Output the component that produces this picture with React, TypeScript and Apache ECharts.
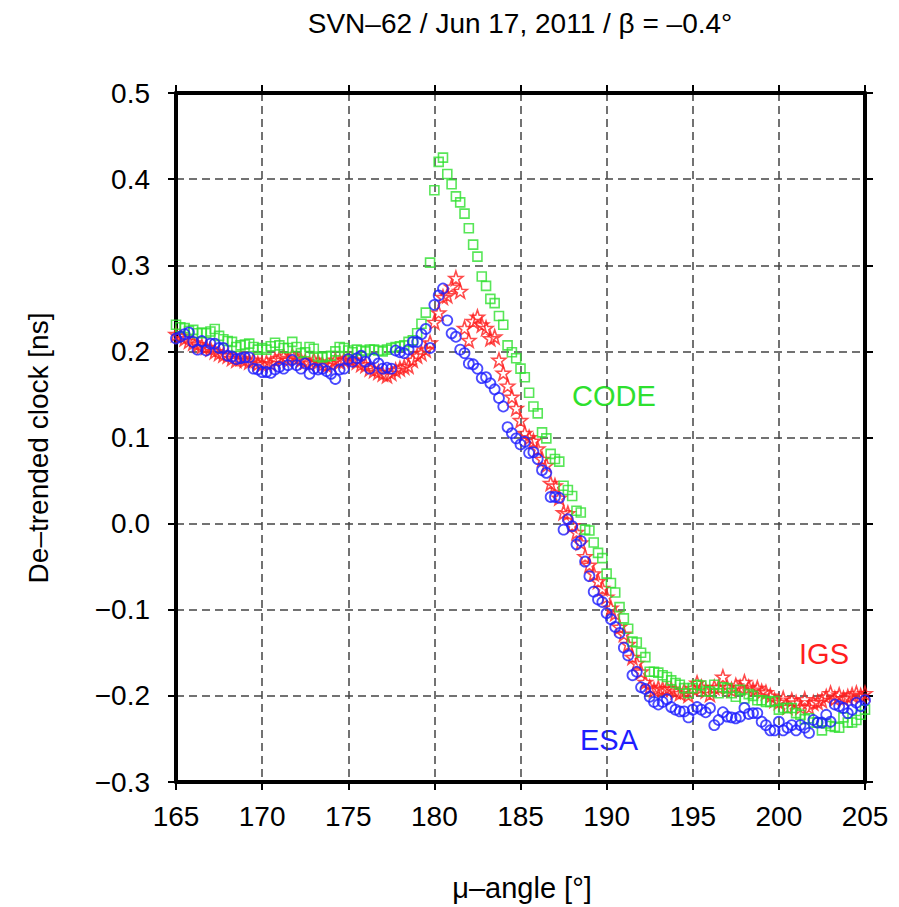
import React, { useEffect, useRef } from "react";
import * as echarts from "echarts";

// Sampling of the mu-angle (degrees) — regular epochs
const MU_START = 165;
const MU_STEP = 0.25;

const X_TICKS = [165, 170, 175, 180, 185, 190, 195, 200, 205];
const Y_TICKS = [-0.3, -0.2, -0.1, 0.0, 0.1, 0.2, 0.3, 0.4, 0.5];

// De-trended clock [ns] — CODE (green squares)
const CODE = [
  0.231, 0.228, 0.227, 0.224,
  0.225, 0.221, 0.222, 0.221,
  0.223, 0.226, 0.218, 0.214,
  0.212, 0.211, 0.205, 0.207,
  0.208, 0.209, 0.205, 0.202,
  0.204, 0.202, 0.206, 0.210,
  0.207, 0.204, 0.204, 0.211,
  0.205, 0.198, 0.199, 0.205,
  0.203, 0.194, 0.193, 0.194,
  0.195, 0.200, 0.205, 0.204,
  0.201, 0.199, 0.202, 0.201,
  0.200, 0.202, 0.202, 0.201,
  0.200, 0.202, 0.204, 0.205,
  0.206, 0.207, 0.211, 0.213,
  0.221, 0.232, 0.245, 0.303,
  0.387, 0.420, 0.425, 0.406,
  0.394, 0.380, 0.373, 0.360,
  0.343, 0.324, 0.310, 0.287,
  0.276, 0.261, 0.256, 0.241,
  0.231, 0.207, 0.199, 0.192,
  0.180, 0.170, 0.152, 0.136,
  0.128, 0.106, 0.099, 0.081,
  0.075, 0.072, 0.044, 0.039,
  0.032, 0.015, 0.013, -0.007,
  -0.008, -0.022, -0.034, -0.040,
  -0.058, -0.069, -0.080, -0.097,
  -0.110, -0.122, -0.137, -0.138,
  -0.150, -0.155, -0.172, -0.172,
  -0.173, -0.176, -0.178, -0.182,
  -0.185, -0.187, -0.191, -0.197,
  -0.191, -0.187, -0.188, -0.195,
  -0.195, -0.187, -0.197, -0.190,
  -0.191, -0.197, -0.201, -0.193,
  -0.203, -0.198, -0.200, -0.205,
  -0.205, -0.207, -0.207, -0.206,
  -0.216, -0.214, -0.214, -0.214,
  -0.220, -0.222, -0.227, -0.226,
  -0.231, -0.231, -0.240, -0.232,
  -0.235, -0.236, -0.237, -0.225,
  -0.231, -0.231, -0.228, -0.222,
  -0.216,
];

// IGS (red stars)
const IGS = [
  0.220, 0.218, 0.215, 0.212,
  0.210, 0.208, 0.206, 0.205,
  0.203, 0.200, 0.198, 0.196,
  0.195, 0.192, 0.190, 0.192,
  0.190, 0.188, 0.190, 0.186,
  0.185, 0.187, 0.186, 0.190,
  0.192, 0.194, 0.190, 0.195,
  0.192, 0.190, 0.188, 0.186,
  0.190, 0.188, 0.185, 0.184,
  0.186, 0.190, 0.188, 0.190,
  0.192, 0.190, 0.188, 0.185,
  0.184, 0.180, 0.178, 0.176,
  0.174, 0.172, 0.175, 0.178,
  0.180, 0.182, 0.183, 0.190,
  0.195, 0.198, 0.202, 0.210,
  0.234, 0.245, 0.263, 0.265,
  0.275, 0.285, 0.270, 0.227,
  0.213, 0.235, 0.240, 0.231,
  0.227, 0.215, 0.217, 0.190,
  0.175, 0.160, 0.147, 0.134,
  0.120, 0.105, 0.100, 0.096,
  0.087, 0.075, 0.068, 0.047,
  0.044, 0.030, 0.013, 0.012,
  -0.002, -0.010, -0.022, -0.038,
  -0.048, -0.058, -0.067, -0.075,
  -0.085, -0.098, -0.104, -0.120,
  -0.128, -0.140, -0.155, -0.162,
  -0.172, -0.184, -0.190, -0.193,
  -0.191, -0.192, -0.191, -0.192,
  -0.195, -0.197, -0.194, -0.199,
  -0.191, -0.185, -0.190, -0.194,
  -0.198, -0.190, -0.190, -0.178,
  -0.190, -0.193, -0.188, -0.190,
  -0.184, -0.190, -0.193, -0.191,
  -0.195, -0.196, -0.200, -0.205,
  -0.207, -0.203, -0.213, -0.205,
  -0.208, -0.213, -0.204, -0.213,
  -0.208, -0.207, -0.205, -0.201,
  -0.197, -0.203, -0.199, -0.203,
  -0.201, -0.199, -0.197, -0.200,
  -0.197,
];

// ESA (blue circles)
const ESA = [
  0.215, 0.217, 0.220, 0.222,
  0.211, 0.202, 0.212, 0.201,
  0.209, 0.209, 0.204, 0.204,
  0.195, 0.194, 0.191, 0.192,
  0.193, 0.193, 0.180, 0.179,
  0.176, 0.176, 0.175, 0.179,
  0.182, 0.180, 0.184, 0.190,
  0.184, 0.180, 0.186, 0.174,
  0.180, 0.179, 0.180, 0.177,
  0.174, 0.168, 0.179, 0.180,
  0.191, 0.188, 0.192, 0.195,
  0.188, 0.180, 0.192, 0.186,
  0.180, 0.181, 0.180, 0.201,
  0.199, 0.198, 0.202, 0.211,
  0.211, 0.220, 0.226, 0.204,
  0.254, 0.265, 0.273, 0.236,
  0.221, 0.217, 0.202, 0.198,
  0.186, 0.185, 0.180, 0.169,
  0.170, 0.163, 0.156, 0.146,
  0.136, 0.112, 0.105, 0.099,
  0.092, 0.095, 0.082, 0.083,
  0.075, 0.062, 0.059, 0.031,
  0.031, 0.030, -0.007, 0.005,
  -0.003, -0.024, -0.020, -0.044,
  -0.061, -0.079, -0.088, -0.091,
  -0.104, -0.111, -0.120, -0.127,
  -0.144, -0.153, -0.176, -0.172,
  -0.190, -0.192, -0.201, -0.207,
  -0.210, -0.207, -0.204, -0.213,
  -0.216, -0.218, -0.218, -0.225,
  -0.216, -0.213, -0.216, -0.219,
  -0.214, -0.234, -0.228, -0.219,
  -0.224, -0.225, -0.226, -0.224,
  -0.214, -0.221, -0.220, -0.220,
  -0.230, -0.234, -0.240, -0.240,
  -0.230, -0.240, -0.237, -0.234,
  -0.240, -0.234, -0.237, -0.243,
  -0.228, -0.231, -0.231, -0.222,
  -0.230, -0.210, -0.212, -0.214,
  -0.220, -0.216, -0.208, -0.212,
  -0.205,
];

const TITLE = "SVN\u201362 / Jun 17, 2011 / \u03B2 = \u20130.4\u00B0";
const X_NAME = "\u03BC\u2013angle [\u00B0]";
const Y_NAME = "De\u2013trended clock [ns]";

const GREEN = "#2ee02e";
const RED = "#ff1e1e";
const BLUE = "#1e1eff";
const FONT = "'Liberation Sans', Arial, sans-serif";

const STAR =
  "path://M0,-10 L2.35,-3.24 L9.51,-3.09 L3.8,1.24 L5.88,8.09 L0,4 L-5.88,8.09 L-3.8,1.24 L-9.51,-3.09 L-2.35,-3.24 Z";

const toPairs = (vals: number[]) => vals.map((v, i) => [MU_START + i * MU_STEP, v]);

export default function App() {
  const ref = useRef<HTMLDivElement>(null);

  useEffect(() => {
    if (!ref.current) return;
    const chart = echarts.init(ref.current, null, { renderer: "svg" });

    const L = 176, T = 93, W = 689, H = 689;
    const frame = { show: true, onZero: false, lineStyle: { color: "#000", width: 4 } };
    const tick = { show: true, inside: false, length: 8, lineStyle: { color: "#000", width: 2 } };
    const split = { show: true, lineStyle: { color: "#444", width: 1.5, type: [8, 5] as any } };
    const fmtY = (v: number) => v.toFixed(1).replace("-", "\u2212");

    chart.setOption({
      animation: false,
      backgroundColor: "#fff",
      grid: { left: L, top: T, width: W, height: H, containLabel: false },
      xAxis: [
        {
          type: "value", min: 165, max: 205, interval: 5, position: "bottom",
          axisLine: frame, axisTick: tick, splitLine: split,
          axisLabel: { margin: 20, fontSize: 28, color: "#000", fontFamily: FONT,
            formatter: (v: number) => String(v) },
        },
        {
          type: "value", min: 165, max: 205, interval: 5, position: "top",
          axisLine: frame, axisTick: tick, splitLine: { show: false }, axisLabel: { show: false },
        },
      ],
      yAxis: [
        {
          type: "value", min: -0.3, max: 0.5, interval: 0.1, position: "left",
          axisLine: frame, axisTick: tick, splitLine: split,
          axisLabel: { margin: 26, fontSize: 28, color: "#000", fontFamily: FONT, formatter: fmtY },
        },
        {
          type: "value", min: -0.3, max: 0.5, interval: 0.1, position: "right",
          axisLine: frame, axisTick: tick, splitLine: { show: false }, axisLabel: { show: false },
        },
      ],
      series: [
        {
          name: "IGS", type: "scatter", data: toPairs(IGS), symbol: STAR, symbolSize: 14,
          itemStyle: { color: "rgba(255,255,255,0)", borderColor: RED, borderWidth: 1.6 },
        },
        {
          name: "CODE", type: "scatter", data: toPairs(CODE), symbol: "rect", symbolSize: 9,
          itemStyle: { color: "rgba(255,255,255,0)", borderColor: GREEN, borderWidth: 1.6 },
        },
        {
          name: "ESA", type: "scatter", data: toPairs(ESA), symbol: "circle", symbolSize: 10,
          itemStyle: { color: "rgba(255,255,255,0)", borderColor: BLUE, borderWidth: 1.8 },
        },
      ],
      graphic: [
        { type: "text", x: 520, y: 23, style: { text: TITLE, font: `28px ${FONT}`, fill: "#000", align: "center", verticalAlign: "middle" } },
        { type: "text", x: 522, y: 888, style: { text: X_NAME, font: `29px ${FONT}`, fill: "#000", align: "center", verticalAlign: "middle" } },
        { type: "text", x: 38, y: 448, rotation: Math.PI / 2, style: { text: Y_NAME, font: `28px ${FONT}`, fill: "#000", align: "center", verticalAlign: "middle" } },
        { type: "text", x: 614, y: 396, style: { text: "CODE", font: `29px ${FONT}`, fill: GREEN, align: "center", verticalAlign: "middle" } },
        { type: "text", x: 824, y: 654, style: { text: "IGS", font: `29px ${FONT}`, fill: RED, align: "center", verticalAlign: "middle" } },
        { type: "text", x: 609, y: 740, style: { text: "ESA", font: `29px ${FONT}`, fill: BLUE, align: "center", verticalAlign: "middle" } },
      ],
    });

    return () => chart.dispose();
  }, []);

  return (
    <div
      ref={ref}
      style={{ position: "fixed", left: 0, top: 0, width: 899, height: 907, background: "#fff" }}
    />
  );
}
